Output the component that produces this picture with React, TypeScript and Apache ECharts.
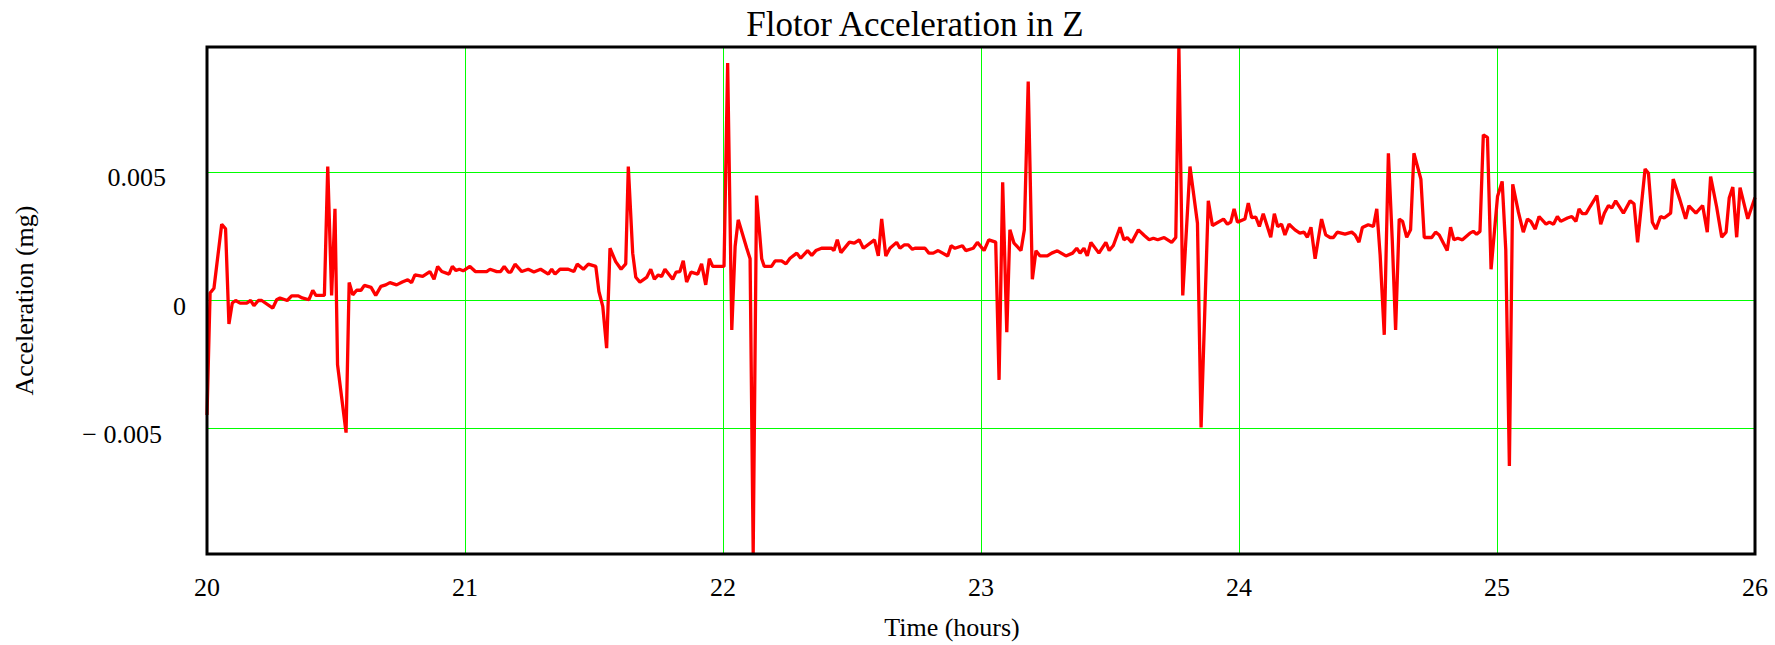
import { useEffect, useRef } from 'react';
import * as echarts from 'echarts';

const SERIF = "'Liberation Serif', 'Times New Roman', serif";

const TITLE = 'Flotor Acceleration in Z';
const X_NAME = 'Time (hours)';
const Y_NAME = 'Acceleration (mg)';

const X_RANGE = [20, 26];
const Y_RANGE = [-0.0099, 0.0099];
const Y_LABEL_VALUES = [-0.005, 0, 0.005];

// [time (hours), acceleration] samples, one array per hour
const hour20: [number, number][] = [
  [20.000, -0.00447], [20.012, 0.00029], [20.027, 0.00048], [20.057, 0.00298],
  [20.072, 0.0028], [20.085, -0.00092], [20.098, -0.0001], [20.111, 0.0],
  [20.128, -0.0001], [20.154, -0.0001], [20.169, 0.0], [20.182, -0.0002],
  [20.199, 0.0], [20.212, 0.0], [20.255, -0.0003], [20.27, 0.00003],
  [20.283, 0.0001], [20.311, 0.0], [20.328, 0.00018], [20.354, 0.00018],
  [20.369, 0.0001], [20.395, 0.00003], [20.41, 0.0004], [20.422, 0.0002],
  [20.455, 0.0002], [20.468, 0.00523], [20.483, 0.0002], [20.496, 0.00358],
  [20.506, -0.00251], [20.539, -0.00516], [20.551, 0.0007], [20.565, 0.00022],
  [20.58, 0.0004], [20.597, 0.0004], [20.61, 0.00059], [20.636, 0.00051],
  [20.654, 0.0002], [20.674, 0.00055], [20.693, 0.00061], [20.709, 0.0007],
  [20.735, 0.00061], [20.757, 0.00072], [20.778, 0.00081], [20.793, 0.0007],
  [20.806, 0.001], [20.836, 0.00094], [20.864, 0.00113], [20.88, 0.00083],
  [20.894, 0.00133], [20.91, 0.00113], [20.938, 0.00103], [20.951, 0.00133],
  [20.965, 0.00117], [20.978, 0.00122], [20.993, 0.00116],
];

const hour21: [number, number][] = [
  [21.019, 0.00133], [21.04, 0.00113], [21.084, 0.00113], [21.097, 0.00122],
  [21.123, 0.00113], [21.138, 0.00113], [21.152, 0.00133], [21.168, 0.00111],
  [21.178, 0.00111], [21.194, 0.00142], [21.22, 0.00113], [21.245, 0.00122],
  [21.267, 0.00111], [21.293, 0.00122], [21.323, 0.00103], [21.336, 0.00122],
  [21.349, 0.00103], [21.368, 0.00122], [21.4, 0.00122], [21.422, 0.00113],
  [21.435, 0.00142], [21.459, 0.00122], [21.478, 0.00142], [21.507, 0.00133],
  [21.519, 0.00035], [21.534, -0.00023], [21.549, -0.00186], [21.562, 0.00204],
  [21.584, 0.00152], [21.605, 0.00122], [21.623, 0.00143], [21.633, 0.00523],
  [21.65, 0.00185], [21.662, 0.00091], [21.678, 0.00072], [21.704, 0.0009],
  [21.72, 0.00122], [21.734, 0.00083], [21.749, 0.001], [21.762, 0.00094],
  [21.775, 0.00122], [21.805, 0.00083], [21.818, 0.00111], [21.833, 0.00113],
  [21.846, 0.00155], [21.859, 0.00072], [21.876, 0.00111], [21.902, 0.00103],
  [21.917, 0.00143], [21.933, 0.00061], [21.947, 0.00163], [21.96, 0.00133],
];

const hour22: [number, number][] = [
  [22.004, 0.00133], [22.018, 0.00927], [22.034, -0.00115], [22.047, 0.00211],
  [22.059, 0.00315], [22.092, 0.00204], [22.105, 0.00163], [22.117, -0.0099],
  [22.13, 0.0041], [22.15, 0.00163], [22.16, 0.00133], [22.188, 0.00133],
  [22.202, 0.00155], [22.227, 0.00155], [22.244, 0.00143], [22.26, 0.00165],
  [22.286, 0.00185], [22.301, 0.00165], [22.328, 0.00195], [22.344, 0.00176],
  [22.36, 0.00195], [22.382, 0.00204], [22.421, 0.00204], [22.43, 0.00195],
  [22.443, 0.00237], [22.457, 0.00187], [22.49, 0.00228], [22.509, 0.00224],
  [22.528, 0.00237], [22.544, 0.00204], [22.587, 0.00237], [22.602, 0.00174],
  [22.615, 0.00319], [22.631, 0.00174], [22.647, 0.00204], [22.673, 0.00227],
  [22.686, 0.00204], [22.702, 0.00217], [22.718, 0.00217], [22.734, 0.002],
  [22.744, 0.00204], [22.783, 0.00204], [22.798, 0.00185], [22.815, 0.00185],
  [22.834, 0.00195], [22.871, 0.00174], [22.884, 0.00214], [22.899, 0.00204],
  [22.928, 0.00214], [22.941, 0.00195], [22.97, 0.00204], [22.986, 0.00227],
];

const hour23: [number, number][] = [
  [23.012, 0.00195], [23.03, 0.00237], [23.057, 0.00228], [23.07, -0.0031],
  [23.084, 0.00462], [23.1, -0.00124], [23.112, 0.00276], [23.128, 0.00224],
  [23.155, 0.00195], [23.168, 0.00276], [23.183, 0.00855], [23.199, 0.00083],
  [23.213, 0.00194], [23.229, 0.00174], [23.257, 0.00174], [23.274, 0.00185],
  [23.296, 0.00194], [23.329, 0.00174], [23.355, 0.00185], [23.371, 0.00204],
  [23.384, 0.00185], [23.399, 0.00204], [23.412, 0.00174], [23.426, 0.00227],
  [23.457, 0.00185], [23.484, 0.00227], [23.497, 0.00195], [23.513, 0.00215],
  [23.539, 0.00286], [23.554, 0.00237], [23.567, 0.00246], [23.584, 0.00227],
  [23.61, 0.00276], [23.633, 0.00254], [23.652, 0.00237], [23.668, 0.00243],
  [23.685, 0.00237], [23.71, 0.00246], [23.739, 0.00227], [23.755, 0.00246],
  [23.767, 0.0099], [23.782, 0.0002], [23.81, 0.00523], [23.839, 0.00302],
  [23.853, -0.00496], [23.881, 0.00389], [23.897, 0.00293], [23.94, 0.00318],
  [23.955, 0.00298], [23.968, 0.00306], [23.981, 0.00358], [23.994, 0.00306],
];

const hour24: [number, number][] = [
  [24.023, 0.00318], [24.036, 0.0038], [24.049, 0.00324], [24.065, 0.00326],
  [24.079, 0.00289], [24.094, 0.00339], [24.123, 0.00247], [24.137, 0.00339],
  [24.15, 0.00289], [24.165, 0.00298], [24.178, 0.00256], [24.194, 0.00298],
  [24.217, 0.00276], [24.236, 0.00263], [24.252, 0.00267], [24.265, 0.00247],
  [24.279, 0.00286], [24.295, 0.00163], [24.32, 0.00318], [24.336, 0.00256],
  [24.353, 0.00246], [24.366, 0.00246], [24.381, 0.00267], [24.411, 0.00259],
  [24.437, 0.00267], [24.45, 0.00256], [24.465, 0.00228], [24.478, 0.00285],
  [24.501, 0.00296], [24.521, 0.00289], [24.534, 0.00358], [24.547, 0.00178],
  [24.563, -0.00134], [24.579, 0.00575], [24.594, 0.00237], [24.607, -0.00115],
  [24.621, 0.00318], [24.634, 0.00309], [24.65, 0.00247], [24.665, 0.00276],
  [24.678, 0.00575], [24.705, 0.00474], [24.718, 0.00246], [24.747, 0.00246],
  [24.762, 0.00267], [24.776, 0.00256], [24.807, 0.00195], [24.82, 0.00286],
  [24.833, 0.00237], [24.848, 0.00243], [24.866, 0.00237], [24.895, 0.00263],
  [24.908, 0.0027], [24.921, 0.00259], [24.934, 0.0027], [24.947, 0.00647],
  [24.963, 0.00637], [24.977, 0.00122],
];

const hour25: [number, number][] = [
  [25.002, 0.00406], [25.02, 0.00465], [25.034, 0.00198], [25.048, -0.00646],
  [25.061, 0.00454], [25.083, 0.00345], [25.102, 0.00267], [25.118, 0.00318],
  [25.131, 0.00309], [25.148, 0.00279], [25.163, 0.00328], [25.19, 0.00298],
  [25.203, 0.00306], [25.219, 0.00298], [25.234, 0.00328], [25.247, 0.00309],
  [25.273, 0.00322], [25.29, 0.00328], [25.306, 0.00309], [25.318, 0.00358],
  [25.331, 0.00339], [25.345, 0.00339], [25.361, 0.00367], [25.387, 0.0041],
  [25.402, 0.00298], [25.416, 0.00341], [25.432, 0.00371], [25.445, 0.00361],
  [25.46, 0.00389], [25.49, 0.00341], [25.516, 0.00389], [25.531, 0.00378],
  [25.545, 0.00227], [25.574, 0.00514], [25.587, 0.00497], [25.602, 0.00306],
  [25.616, 0.00279], [25.634, 0.00328], [25.648, 0.00322], [25.673, 0.00341],
  [25.683, 0.00474], [25.709, 0.00393], [25.731, 0.00319], [25.744, 0.0037],
  [25.771, 0.00341], [25.797, 0.00371], [25.815, 0.00267], [25.828, 0.00484],
  [25.851, 0.00367], [25.871, 0.00247], [25.888, 0.00267], [25.9, 0.004],
  [25.914, 0.00443], [25.929, 0.00247], [25.942, 0.00441], [25.972, 0.00319],
  [26.0, 0.00402],
];

const samples = [...hour20, ...hour21, ...hour22, ...hour23, ...hour24, ...hour25];

const textBase = { fontFamily: SERIF, fontSize: 26, color: '#000000' };

export default function App() {
  const ref = useRef<HTMLDivElement>(null);

  useEffect(() => {
    if (!ref.current) return;
    const chart = echarts.init(ref.current, undefined, { renderer: 'svg' });

    chart.setOption({
      animation: false,
      backgroundColor: '#ffffff',
      title: {
        text: TITLE,
        left: 915,
        top: 7,
        textAlign: 'center',
        padding: 0,
        textStyle: { fontFamily: SERIF, fontSize: 35, fontWeight: 'normal', color: '#000000' },
      },
      // the frame sits above the green grid lines
      grid: {
        left: 207,
        right: 20,
        top: 47,
        bottom: 91,
        show: true,
        z: 10,
        borderColor: '#000000',
        borderWidth: 3,
        backgroundColor: 'transparent',
      },
      xAxis: {
        type: 'value',
        min: X_RANGE[0],
        max: X_RANGE[1],
        interval: 1,
        z: 0,
        name: X_NAME,
        nameLocation: 'middle',
        nameGap: 60,
        nameTextStyle: { ...textBase, padding: [0, 58, 0, 0] },
        axisLine: { show: false },
        axisTick: { show: false },
        axisLabel: { ...textBase, margin: 20 },
        splitLine: { show: true, lineStyle: { color: '#00ff00', width: 1 } },
      },
      yAxis: {
        type: 'value',
        min: Y_RANGE[0],
        max: Y_RANGE[1],
        splitNumber: 4,
        z: 0,
        name: Y_NAME,
        nameLocation: 'middle',
        nameGap: 170,
        nameTextStyle: { ...textBase },
        axisLine: { show: false },
        axisTick: { show: false },
        axisLabel: {
          ...textBase,
          customValues: Y_LABEL_VALUES,
          margin: 21,
          padding: [11, 0, 0, 0],
          formatter: (v: number) => {
            const s = String(Math.abs(v));
            if (v === 0) return `{z|${s}}`;
            return v > 0 ? `{p|${s}}` : `{m|\u2212 ${s}}`;
          },
          rich: {
            z: { ...textBase },
            p: { ...textBase, padding: [0, 20, 0, 0] },
            m: { ...textBase, padding: [0, 24, 0, 0] },
          },
        },
        splitLine: { show: true, lineStyle: { color: '#00ff00', width: 1 } },
      },
      series: [
        {
          type: 'line',
          data: samples,
          symbol: 'none',
          showSymbol: false,
          lineStyle: { color: '#ff0000', width: 3.3 },
          itemStyle: { color: '#ff0000' },
          z: 3,
        },
      ],
    });

    return () => chart.dispose();
  }, []);

  return (
    <div
      ref={ref}
      style={{ position: 'fixed', left: 0, top: 0, width: 1775, height: 645, background: '#ffffff' }}
    />
  );
}
